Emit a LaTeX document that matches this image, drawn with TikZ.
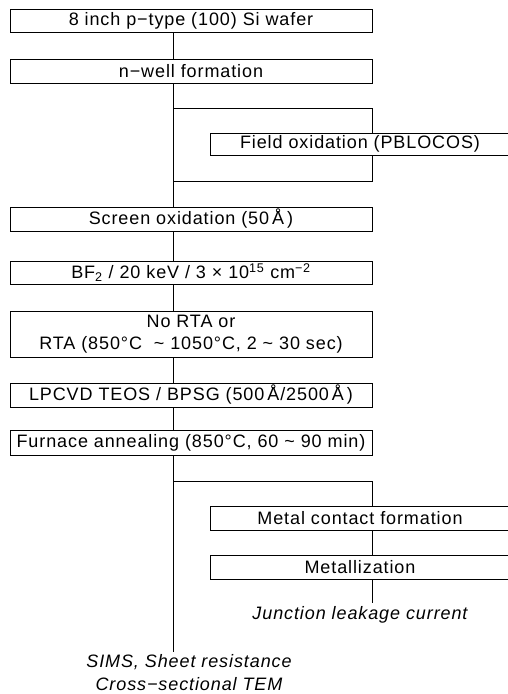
\documentclass[tikz,border=0pt]{standalone}
\usepackage{fontspec}
\setmainfont{Liberation Sans}[LetterSpace=5]
\begin{document}
\begin{tikzpicture}[x=1pt,y=-1pt,
  lw/.style={line width=0.9pt},
  stepbox/.style={draw, lw, minimum width=362pt, minimum height=24pt, inner sep=0pt, font=\fontsize{18}{22}\selectfont},
  sidebox/.style={draw, lw, minimum width=300pt, minimum height=24pt, inner sep=0pt, font=\fontsize{18}{22}\selectfont},
  result/.style={inner sep=3pt, align=center, font=\fontsize{18}{23}\selectfont\itshape},
  conn/.style={lw}]
\useasboundingbox (0,0) rectangle (508,694);
\fill[white] (0,0) rectangle (508,694);
\coordinate (spine) at (173,0);
\coordinate (rx) at (372,0);
% main column
\node[stepbox, minimum height=23pt] (b1) at (191,20.5) {8 inch p−type (100) Si wafer};
\node[stepbox] (b2) at (191,71) {n−well formation};
\node[sidebox, minimum height=22pt] (fo) at (360,144) {Field oxidation (PBLOCOS)};
\node[stepbox] (b3) at (191,219) {Screen oxidation (50\,Å\,)};
\node[stepbox, minimum height=23pt] (b4) at (191,272.5) {BF\textsubscript{2} / 20 keV / 3 × 10\textsuperscript{15} cm\textsuperscript{−2}};
\node[stepbox, minimum height=46pt, align=center] (b5) at (191,334) {No RTA or\\RTA (850°C \ \textasciitilde\ 1050°C, 2 \textasciitilde\ 30 sec)};
\node[stepbox] (b6) at (191,395) {LPCVD TEOS / BPSG (500\,Å/2500\,Å\,)};
\node[stepbox, minimum height=25pt] (b7) at (191,442.5) {Furnace annealing (850°C, 60 \textasciitilde\ 90 min)};
\node[sidebox] (mc) at (360,518) {Metal contact formation};
\node[sidebox] (mz) at (360,567) {Metallization};
\node[result] (jl) at (360,615) {Junction leakage current};
\node[result] (sims) at (189,673) {SIMS, Sheet resistance\\Cross−sectional TEM};
% branch points
\coordinate (br1) at (173,108);
\coordinate (br1r) at (372,108);
\coordinate (br2) at (173,181);
\coordinate (br2r) at (372,181);
\coordinate (br3) at (173,481);
\coordinate (br3r) at (372,481);
% connectors
\draw[conn] (b1.south -| spine) -- (b2.north -| spine);
\draw[conn] (b2.south -| spine) -- (b3.north -| spine);
\draw[conn] (br1) -- (br1r) -- (fo.north -| rx);
\draw[conn] (fo.south -| rx) -- (br2r) -- (br2);
\draw[conn] (b3.south -| spine) -- (b4.north -| spine);
\draw[conn] (b4.south -| spine) -- (b5.north -| spine);
\draw[conn] (b5.south -| spine) -- (b6.north -| spine);
\draw[conn] (b6.south -| spine) -- (b7.north -| spine);
\draw[conn] (b7.south -| spine) -- (sims.north -| spine);
\draw[conn] (br3) -- (br3r) -- (mc.north -| rx);
\draw[conn] (mc.south -| rx) -- (mz.north -| rx);
\draw[conn] (mz.south -| rx) -- (jl.north -| rx);
\end{tikzpicture}
\end{document}
